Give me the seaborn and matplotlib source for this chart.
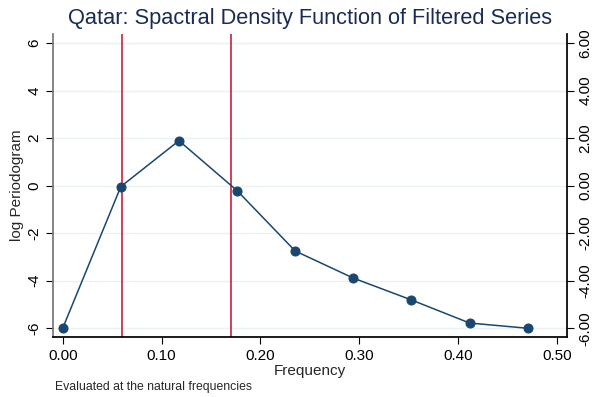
import numpy as np
import pandas as pd
import matplotlib
matplotlib.use("Agg")
import matplotlib.pyplot as plt
import seaborn as sns

# data
frequency = [0.0, 1/17, 2/17, 3/17, 4/17, 5/17, 6/17, 7/17, 8/17]
log_periodogram = [-6.0, -0.04, 1.89, -0.21, -2.75, -3.89, -4.81, -5.78, -6.0]
ref_lines = [0.06, 0.17]
y_ticks = [-6, -4, -2, 0, 2, 4, 6]
x_ticks = [0.0, 0.1, 0.2, 0.3, 0.4, 0.5]

sns.set_theme(style="white")
plt.rcParams['font.family'] = ['Liberation Sans', 'DejaVu Sans']

df = pd.DataFrame({"Frequency": frequency, "logP": log_periodogram})

fig = plt.figure(figsize=(5.93, 3.97), dpi=100)
ax = fig.add_axes([0.0894, 0.1504, 0.9556 - 0.0894, 0.9144 - 0.1504])

navy = "#1a476f"
ax.set_ylim(-6.38, 6.38)
ax.set_xlim(-0.0098, 0.51)
for yt in y_ticks:
    ax.axhline(yt, color="#eaf2f3", lw=1.0, zorder=0)
for xv in ref_lines:
    ax.axvline(xv, color="#c8203f", lw=1.2, zorder=1)

sns.lineplot(data=df, x="Frequency", y="logP", ax=ax, color=navy, lw=1.1,
             marker="o", markersize=6.5, markeredgecolor=navy, markerfacecolor=navy, zorder=3)

ax.set_yticks(y_ticks)
ax.set_yticklabels([str(v) for v in y_ticks], rotation=90, va="center", fontsize=11)
ax.set_xticks(x_ticks)
ax.set_xticklabels([f"{v:.2f}" for v in x_ticks], fontsize=11)
ax.tick_params(axis="both", direction="out", length=5, width=0.8, colors="black", bottom=True, left=True)
ax.set_xlabel("Frequency", fontsize=11, labelpad=1)
ax.set_ylabel("log Periodogram", fontsize=11, labelpad=2)

ax.spines["top"].set_visible(False)
ax.spines["right"].set_visible(False)
ax.spines["left"].set_color("#777777")
ax.spines["bottom"].set_color("black")

ax2 = ax.twinx()
ax2.set_ylim(ax.get_ylim())
ax2.set_yticks(y_ticks)
ax2.set_yticklabels([f"{v:.2f}" for v in y_ticks], rotation=90, va="center", fontsize=11)
ax2.tick_params(axis="y", direction="out", length=5, width=0.8, right=True, colors="black")
for s in ["top", "left", "bottom"]:
    ax2.spines[s].set_visible(False)
ax2.spines["right"].set_color("black")

fig.text(0.522, 0.953, "Qatar: Spactral Density Function of Filtered Series",
         ha="center", va="center", fontsize=15.7, color="#1a2b55")
fig.text(0.093, 0.025, "Evaluated at the natural frequencies", fontsize=8.8, ha="left", va="center")

fig.patch.set_facecolor("white")
fig.savefig("out.png", dpi=100)
